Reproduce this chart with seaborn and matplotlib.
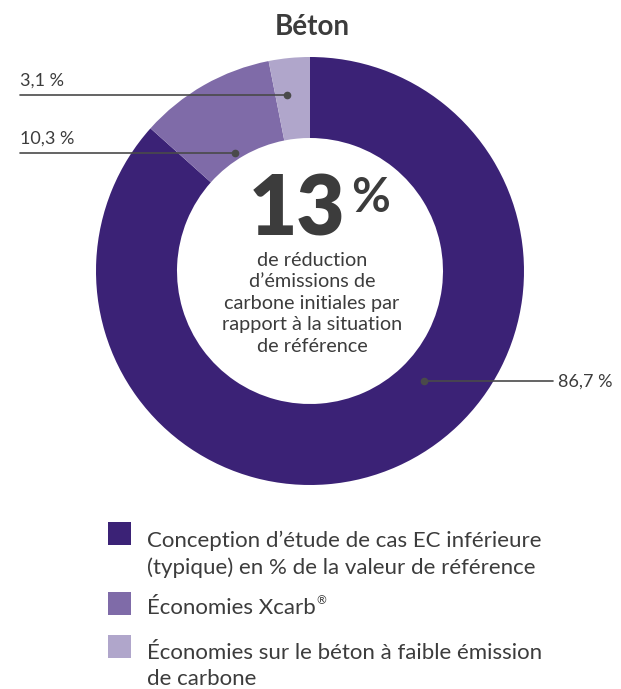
import numpy as np
import matplotlib
matplotlib.use("Agg")
import matplotlib.pyplot as plt
from matplotlib.patches import Rectangle
import seaborn as sns

# Data
categories = [
    "Conception d\u2019étude de cas EC inférieure\n(typique) en % de la valeur de référence",
    "Économies Xcarb\u00ae",
    "Économies sur le béton à faible émission\nde carbone",
]
shares = [86.7, 10.3, 3.1]
share_labels = ["86,7 %", "10,3 %", "3,1 %"]
headline_value = "13"
headline_text = "de réduction\nd\u2019émissions de\ncarbone initiales par\nrapport à la situation\nde référence"
title = "Béton"

sns.set_theme(style="white")
plt.rcParams["font.family"] = ["Lato", "DejaVu Sans"]

palette = sns.color_palette(["#3b2276", "#7f6ba8", "#b0a6cb"])
text_color = "#3c3c3c"
line_color = "#4a4a4a"

W, H = 621, 689
fig = plt.figure(figsize=(W / 100, H / 100), dpi=100)
ax = fig.add_axes([0, 0, 1, 1])
ax.set_xlim(0, W)
ax.set_ylim(0, H)


def py(y):
    """Pixel row measured from the top -> axis y."""
    return H - y


cx, cy = 310, py(271)
r_out, ring = 214, 81

wedges, _ = ax.pie(
    shares,
    colors=palette,
    startangle=90,
    counterclock=False,
    radius=r_out,
    center=(cx, cy),
    wedgeprops=dict(width=ring, edgecolor="none", linewidth=0),
)
ax.set_xlim(0, W)
ax.set_ylim(0, H)
ax.set_aspect("equal")
ax.axis("off")

# leader lines: (fraction along wedge, radius of the dot, side)
leader_style = [(0.43, 158, "right"), (0.42, 140, "left"), (0.33, 178, "left")]
total = sum(shares)
start = 90.0
for val, lab, (frac, rr, side) in zip(shares, share_labels, leader_style):
    span = 360.0 * val / total
    ang = np.deg2rad(start - frac * span)
    start -= span
    dx, dy = cx + rr * np.cos(ang), cy + rr * np.sin(ang)
    ax.plot([dx], [dy], "o", color=line_color, markersize=4.5, zorder=5)
    if side == "left":
        ax.plot([20, dx], [dy, dy], color=line_color, lw=1.2, zorder=4)
        ax.text(20, dy + 9, lab, ha="left", va="baseline", fontsize=13,
                color=text_color)
    else:
        ax.plot([dx, 553], [dy, dy], color=line_color, lw=1.2, zorder=4)
        ax.text(558, dy - 6, lab, ha="left", va="baseline", fontsize=13,
                color=text_color)

# title
ax.text(cx + 2, py(35), title, ha="center", va="baseline", fontsize=20,
        fontweight="bold", color=text_color)

# headline in the hole
ax.text(297, py(235), headline_value, ha="center", va="baseline", fontsize=60,
        fontweight="heavy", color=text_color)
ax.text(371, py(212), "%", ha="center", va="baseline", fontsize=34,
        fontweight="bold", color=text_color)
ax.text(312, py(252), headline_text, ha="center", va="top", fontsize=14.3,
        color=text_color, linespacing=1.32)

# legend: square top and baseline of the last text line
renderer = fig.canvas.get_renderer()
legend_rows = [(522, 574), (592, 614), (635, 685)]
for (top, base), lab, col in zip(legend_rows, categories, palette):
    ax.add_patch(Rectangle((108, py(top + 23)), 23, 23, facecolor=col,
                           edgecolor="none"))
    mark = lab.endswith("\u00ae")
    body = lab[:-1] if mark else lab
    t = ax.text(147, py(base), body, ha="left", va="baseline",
                fontsize=16, color=text_color, linespacing=1.36)
    if mark:
        bb = t.get_window_extent(renderer=renderer)
        ax.text(bb.x1 + 1, py(base) + 10, "\u00ae", ha="left", va="baseline",
                fontsize=8.5, color=text_color)

fig.savefig("out.png", dpi=100, facecolor="white")
